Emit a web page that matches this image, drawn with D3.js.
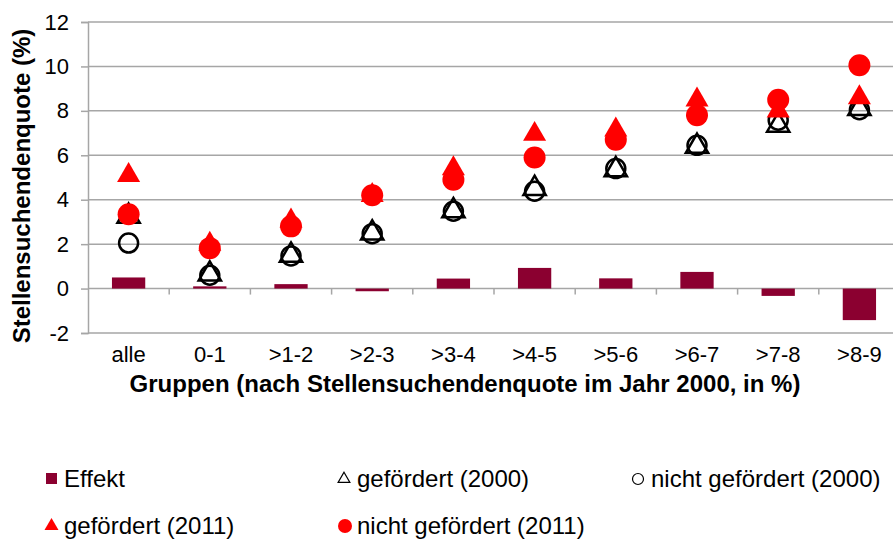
<!DOCTYPE html>
<html>
<head>
<meta charset="utf-8">
<script src="https://cdn.jsdelivr.net/npm/d3@7"></script>
<style>
  body { margin: 0; background: #fff; }
  text { font-family: "Liberation Sans", Arial, sans-serif; }
</style>
</head>
<body>
<div id="chart"></div>
<script>
// data
var categories = ["alle", "0-1", ">1-2", ">2-3", ">3-4", ">4-5", ">5-6", ">6-7", ">7-8", ">8-9"]
var effekt = [0.5, 0.1, 0.2, -0.12, 0.45, 0.93, 0.46, 0.75, -0.33, -1.42]
var gefoerdert2000 = [3.25, 0.65, 1.5, 2.5, 3.5, 4.5, 5.35, 6.4, 7.35, 8.1]
var nichtGefoerdert2000 = [2.05, 0.6, 1.47, 2.47, 3.48, 4.38, 5.4, 6.45, 7.58, 8.05]
var gefoerdert2011 = [5.1, 2.0, 3.05, 4.2, 5.4, 6.95, 7.15, 8.5, 8.0, 8.6]
var nichtGefoerdert2011 = [3.35, 1.82, 2.8, 4.2, 4.9, 5.9, 6.7, 7.8, 8.5, 10.05]
var yTicks = [-2, 0, 2, 4, 6, 8, 10, 12]

var width = 893
height = 539

var svg = d3.select("#chart")
    .append("svg")
    .attr("width", width)
    .attr("height", height)

var x = d3.scaleBand()
    .domain(categories)
    .range([88, 900])

var y = d3.scaleLinear()
    .domain([-2, 12])
    .range([333, 22])

var gridColor = "#a6a6a6"

// horizontal gridlines
svg.selectAll("line.grid")
    .data(yTicks)
    .enter()
    .append("line")
    .attr("class", "grid")
    .attr("x1", 88)
    .attr("x2", width)
    .attr("y1", function (d) { return y(d); })
    .attr("y2", function (d) { return y(d); })
    .attr("stroke", gridColor)
    .attr("stroke-width", 1.5)

// y axis
var yAxis = svg.append("g")
    .attr("transform", "translate(88,0)")
    .call(d3.axisLeft(y).tickValues(yTicks).tickSize(7).tickPadding(12)
        .tickFormat(function (d) { return String(d); }))
yAxis.select(".domain").attr("stroke", gridColor).attr("stroke-width", 1.5)
yAxis.selectAll(".tick line").attr("stroke", gridColor).attr("stroke-width", 1.5)
yAxis.selectAll(".tick text")
    .style("font-size", "22px")
    .style("font-family", "Liberation Sans, Arial, sans-serif")
    .attr("fill", "#000")

// category ticks on the zero line, between the groups
svg.selectAll("line.catTick")
    .data(categories.slice(1))
    .enter()
    .append("line")
    .attr("class", "catTick")
    .attr("x1", function (d) { return x(d); })
    .attr("x2", function (d) { return x(d); })
    .attr("y1", y(0))
    .attr("y2", y(0) + 6)
    .attr("stroke", gridColor)
    .attr("stroke-width", 1.5)

// category labels below the plot
var xAxis = svg.append("g")
    .attr("transform", "translate(0," + y(-2) + ")")
    .call(d3.axisBottom(x).tickSize(0).tickPadding(13))
xAxis.select(".domain").remove()
xAxis.selectAll(".tick text")
    .style("font-size", "22px")
    .style("font-family", "Liberation Sans, Arial, sans-serif")
    .attr("fill", "#000")

// Effekt bars
var barW = x.bandwidth() * 0.41
svg.selectAll("rect.effekt")
    .data(effekt)
    .enter()
    .append("rect")
    .attr("class", "effekt")
    .attr("x", function (d, i) { return x(categories[i]) + x.bandwidth() / 2 - barW / 2; })
    .attr("y", function (d) { return y(Math.max(0, d)); })
    .attr("width", barW)
    .attr("height", function (d) { return Math.abs(y(d) - y(0)); })
    .attr("fill", "#8b0030")

var cx = function (d, i) { return x(categories[i]) + x.bandwidth() / 2; }
var tri = d3.symbol().type(d3.symbolTriangle).size(215)

// gefördert (2000): open triangles
svg.selectAll("path.g2000")
    .data(gefoerdert2000)
    .enter()
    .append("path")
    .attr("class", "g2000")
    .attr("d", tri)
    .attr("transform", function (d, i) { return "translate(" + cx(d, i) + "," + y(d) + ")"; })
    .attr("fill", "none")
    .attr("stroke", "#000")
    .attr("stroke-width", 2.5)

// nicht gefördert (2000): open circles
svg.selectAll("circle.ng2000")
    .data(nichtGefoerdert2000)
    .enter()
    .append("circle")
    .attr("class", "ng2000")
    .attr("cx", cx)
    .attr("cy", function (d) { return y(d); })
    .attr("r", 9.5)
    .attr("fill", "none")
    .attr("stroke", "#000")
    .attr("stroke-width", 2.5)

// gefördert (2011): red triangles
svg.selectAll("path.g2011")
    .data(gefoerdert2011)
    .enter()
    .append("path")
    .attr("class", "g2011")
    .attr("d", d3.symbol().type(d3.symbolTriangle).size(230))
    .attr("transform", function (d, i) { return "translate(" + cx(d, i) + "," + y(d) + ")"; })
    .attr("fill", "#ff0000")

// nicht gefördert (2011): red circles
svg.selectAll("circle.ng2011")
    .data(nichtGefoerdert2011)
    .enter()
    .append("circle")
    .attr("class", "ng2011")
    .attr("cx", cx)
    .attr("cy", function (d) { return y(d); })
    .attr("r", 11)
    .attr("fill", "#ff0000")

// axis titles
svg.append("text")
    .attr("transform", "translate(30,186) rotate(-90)")
    .attr("text-anchor", "middle")
    .style("font-size", "24px")
    .style("font-weight", "bold")
    .text("Stellensuchendenquote (%)")

svg.append("text")
    .attr("x", 465)
    .attr("y", 392)
    .attr("text-anchor", "middle")
    .style("font-size", "24px")
    .style("font-weight", "bold")
    .text("Gruppen (nach Stellensuchendenquote im Jahr 2000, in %)")

// legend, three columns like the original
var legend = [
    { name: "Effekt", type: "square", x: 45, y: 478 },
    { name: "gefördert (2000)", type: "openTri", x: 338, y: 478 },
    { name: "nicht gefördert (2000)", type: "openCircle", x: 632, y: 478 },
    { name: "gefördert (2011)", type: "redTri", x: 45, y: 525 },
    { name: "nicht gefördert (2011)", type: "redCircle", x: 338, y: 525 }
]

var items = svg.selectAll("g.legend")
    .data(legend)
    .enter()
    .append("g")
    .attr("class", "legend")
    .attr("transform", function (d) { return "translate(" + d.x + "," + d.y + ")"; })

items.each(function (d) {
    var g = d3.select(this)
    if (d.type == "square") {
        g.append("rect").attr("x", 1).attr("y", -5).attr("width", 11).attr("height", 11).attr("fill", "#8b0030")
    } else if (d.type == "openTri") {
        g.append("path").attr("d", d3.symbol().type(d3.symbolTriangle).size(60))
            .attr("transform", "translate(6,1)").attr("fill", "none").attr("stroke", "#000").attr("stroke-width", 1.2)
    } else if (d.type == "openCircle") {
        g.append("circle").attr("cx", 6).attr("cy", 1).attr("r", 5.5).attr("fill", "none").attr("stroke", "#000").attr("stroke-width", 1.2)
    } else if (d.type == "redTri") {
        g.append("path").attr("d", d3.symbol().type(d3.symbolTriangle).size(85))
            .attr("transform", "translate(6.5,1)").attr("fill", "#ff0000")
    } else {
        g.append("circle").attr("cx", 7).attr("cy", 1).attr("r", 7).attr("fill", "#ff0000")
    }
    g.append("text")
        .attr("x", 19)
        .attr("y", 9)
        .style("font-size", "24px")
        .text(d.name)
})
</script>
</body>
</html>
